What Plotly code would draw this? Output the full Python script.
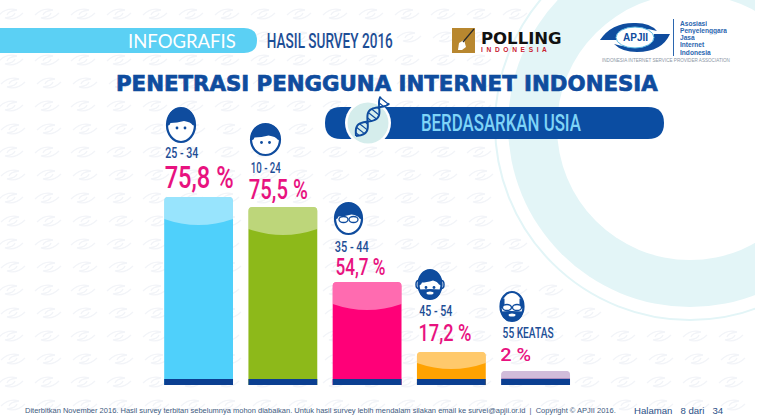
import json
import math

import numpy as np
import plotly.graph_objects as go

W, H = 760, 418
BASE_Y = 385  # pixel row of the bars' common baseline

age_groups = ['25 - 34', '10 - 24', '35 - 44', '45 - 54', '55 KEATAS']
percent_labels = ['75,8 %', '75,5 %', '54,7 %', '17,2 %', '2 %']
# the infographic does not draw its bars in proportion to the percentages,
# so these are the bar heights as measured on the picture
drawn_heights = [188, 178, 103, 33, 14]
bar_colours = ['#4FD0FB', '#8DB91A', '#FF0078', '#FFA200', '#B08CC0']

footer_text = ('Diterbitkan November 2016. Hasil survey terbitan sebelumnya mohon diabaikan. '
               'Untuk hasil survey lebih mendalam silakan email ke survei@apjii.or.id&nbsp; |&nbsp; '
               'Copyright © APJII 2016.')
apjii_lines = ['Asosiasi', 'Penyelenggara', 'Jasa', 'Internet', 'Indonesia']

NAVY = '#0F4C9E'
NARROW = 'Roboto'  # no condensed face installed, squeezed to width in the page script below


def px(x, y):
    return f'{x / W:.5f},{1 - y / H:.5f}'


def paper_path(path, fill=None, line=None, width=0, layer='above', opacity=1):
    return dict(type='path', xref='paper', yref='paper', path=path, layer=layer, opacity=opacity,
                fillcolor=fill or 'rgba(0,0,0,0)',
                line=dict(color=line or 'rgba(0,0,0,0)', width=width))


def ellipse(cx, cy, rx, ry, fill=None, line=None, width=0, layer='above'):
    return dict(type='circle', xref='paper', yref='paper', layer=layer,
                x0=(cx - rx) / W, x1=(cx + rx) / W, y0=1 - (cy + ry) / H, y1=1 - (cy - ry) / H,
                fillcolor=fill or 'rgba(0,0,0,0)',
                line=dict(color=line or 'rgba(0,0,0,0)', width=width))


def label(x, y, text, size, color, family='Liberation Sans', anchor='left', bold=False, height=None, weight=None):
    if bold:
        text = f'<b>{text}</b>'
    return dict(xref='paper', yref='paper', x=x / W, y=1 - y / H, text=text, showarrow=False,
                xanchor=anchor, yanchor='middle', height=height,
                font=dict(size=size, color=color, family=family, weight=weight))


def watermark():
    # one long path holding all the faint swirls, skipped inside the big ring
    parts = []
    for row in range(18):
        y = 14 + 23 * row
        for col in range(21):
            x = 11 + 36 * col + (row % 2) * 2
            if math.hypot(x - 690, y - 125) < 200:
                continue
            parts.append(f'M{px(x - 12, y + 1)} Q{px(x - 4, y - 7)} {px(x + 6, y - 4)} '
                         f'Q{px(x - 3, y - 3)} {px(x - 4, y + 1)} '
                         f'M{px(x + 12, y - 1)} Q{px(x + 4, y + 7)} {px(x - 6, y + 4)} '
                         f'Q{px(x + 3, y + 3)} {px(x + 4, y - 1)}')
    return paper_path(' '.join(parts), line='#F2F4F8', width=1.3, layer='below')


def face(cx, cy, rx, ry, kind):
    shapes = []
    if kind == 'beard':
        shapes.append(ellipse(cx - rx, cy, 2.5, 4, fill='white', line=NAVY, width=1.5))
        shapes.append(ellipse(cx + rx, cy, 2.5, 4, fill='white', line=NAVY, width=1.5))
    shapes.append(ellipse(cx, cy, rx, ry, fill='white', line=NAVY, width=2.2))
    left, right, top, chin = cx - rx, cx + rx, cy - ry, cy + ry
    if kind == 'bald':
        shapes.append(paper_path(f'M{px(left, cy + 2)} Q{px(left - 1, cy - 7)} {px(left + 4, cy - 8)} '
                                 f'L{px(left + 4, cy + 1)} Z M{px(right, cy + 2)} '
                                 f'Q{px(right + 1, cy - 7)} {px(right - 4, cy - 8)} L{px(right - 4, cy + 1)} Z',
                                 fill=NAVY))
    else:
        shapes.append(paper_path(f'M{px(left, cy + 1)} Q{px(left, top)} {px(cx, top)} '
                                 f'Q{px(right, top)} {px(right, cy + 1)} '
                                 f'L{px(right - 2.5, cy)} Q{px(right - 4, cy - 3)} {px(cx + 3, cy - 4)} '
                                 f'Q{px(cx - 4, cy - 2)} {px(left + 3.5, cy - 2)} '
                                 f'L{px(left + 2.5, cy)} Z', fill=NAVY))
    if kind in ('glasses', 'bald'):
        shapes.append(ellipse(cx - 5, cy + 1, 4.5, 3, fill='white', line=NAVY, width=1.3))
        shapes.append(ellipse(cx + 5, cy + 1, 4.5, 3, fill='white', line=NAVY, width=1.3))
    else:
        shapes.append(ellipse(cx - 4, cy + 3, 1.4, 1.4, fill=NAVY))
        shapes.append(ellipse(cx + 4, cy + 3, 1.4, 1.4, fill=NAVY))
    if kind in ('beard', 'bald'):
        shapes.append(paper_path(f'M{px(left + 1, cy + 5)} Q{px(cx, cy + 4)} {px(right - 1, cy + 5)} '
                                 f'Q{px(right - 1, chin)} {px(cx, chin)} Q{px(left + 1, chin)} {px(left + 1, cy + 5)} Z',
                                 fill=NAVY))
        shapes.append(ellipse(cx, cy + ry - 6, 3.5, 1.5, fill='white'))
    return shapes


def dna():
    t = np.linspace(0, 1, 40)
    xs = 356 + 29 * t
    ys = 136 - 36 * t
    strand_a, strand_b = [], []
    for x, y, s in zip(xs, ys, t):
        off = 5.5 * np.sin(s * 2 * np.pi * 1.25)
        strand_a.append((x + off * 0.78, y + off * 0.62))
        strand_b.append((x - off * 0.78, y - off * 0.62))
    shapes = []
    for strand in (strand_a, strand_b):
        d = 'M' + ' L'.join(px(a, b) for a, b in strand)
        shapes.append(paper_path(d, line=NAVY, width=2))
    rungs = ''.join(f'M{px(*strand_a[k])} L{px(*strand_b[k])} ' for k in range(2, 40, 4))
    shapes.append(paper_path(rungs, line=NAVY, width=1.2))
    return shapes


def apjii_logo():
    return [
        paper_path(f'M{px(600, 40)} Q{px(612, 22)} {px(636, 23)} Q{px(650, 23)} {px(657, 31)} '
                   f'Q{px(640, 26)} {px(622, 32)} L{px(617, 40)} Z', fill='#0F4C9E'),
        paper_path(f'M{px(670, 34)} Q{px(662, 52)} {px(637, 52)} Q{px(622, 52)} {px(614, 44)} '
                   f'Q{px(632, 50)} {px(650, 43)} L{px(654, 34)} Z', fill='#0F4C9E'),
        ellipse(635, 37.5, 19, 10.5, fill='white', line='#58B6E0', width=1),
        dict(type='line', xref='paper', yref='paper', x0=673.5 / W, x1=673.5 / W,
             y0=1 - 56 / H, y1=1 - 19 / H, line=dict(color='#2B66AF', width=1)),
    ]


xs = np.arange(len(age_groups))
BAR_WIDTH = 0.817
SLOT = 84.25  # pixels between bar centres
HIGHLIGHT_DEPTH = [22, 22, 22, 11, 7]
HIGHLIGHT_SAG = [6, 6, 6, 6, 0]
AGE_OFFSET = [44, 39, 35, 41, 38]
VALUE_OFFSET = [20, 18, 15, 19, 17]
VALUE_SIZE = [31, 27, 23, 24, 19]
VALUE_WIDTH = [69, 59, 50, 53, 31]
VALUE_SHIFT = [0, -4, -7, -6, -20]
AGE_WIDTH = [33, 30, 34, 33, 51]
AGE_SHIFT = [-17, -17, -15, -15, -8]

fig = go.Figure()
fig.add_trace(go.Bar(x=xs, y=drawn_heights, width=BAR_WIDTH, marker_color=bar_colours,
                     marker_line_width=0, hovertext=age_groups))
fig.add_trace(go.Bar(x=xs, y=[6] * len(xs), width=BAR_WIDTH, marker_color='#0B3F91',
                     marker_line_width=0, hoverinfo='skip'))

shapes = [
    ellipse(690, 125, 195, 195, line='#E3F5F7', width=2, layer='below'),
    ellipse(690, 125, 182, 182, fill='#E3F5F7', layer='below'),
    ellipse(690, 127, 133, 133, fill='white', layer='below'),
    dict(type='rect', xref='paper', yref='paper', layer='below', x0=755 / W, x1=1, y0=0, y1=1,
         fillcolor='white', line_width=0),
    watermark(),
    # header pill
    paper_path(f'M{px(0, 28)} L{px(244, 28)} Q{px(257, 28)} {px(257, 40.5)} Q{px(257, 53)} {px(244, 53)} '
               f'L{px(0, 53)} Z', fill='#5BD0F4'),
    # polling logo
    dict(type='rect', xref='paper', yref='paper', x0=452 / W, x1=475 / W, y0=1 - 53 / H, y1=1 - 28 / H,
         fillcolor='#B8872F', line_width=0),
    paper_path(f'M{px(458, 50)} L{px(459, 43)} L{px(464, 40)} L{px(466, 47)} L{px(462, 50)} Z', fill='white'),
    paper_path(f'M{px(463, 42)} L{px(474, 29)}', line='#2A2A2A', width=1.2),
    # subtitle pill
    paper_path(f'M{px(341, 107)} L{px(648, 107)} Q{px(664, 107)} {px(664, 123)} Q{px(664, 139)} {px(648, 139)} '
               f'L{px(341, 139)} Q{px(325, 139)} {px(325, 123)} Q{px(325, 107)} {px(341, 107)} Z', fill='#0B4DA2'),
    ellipse(368, 123, 23, 23, fill='white'),
    ellipse(368, 123, 20.5, 20.5, fill='#D5EDEC'),
]
shapes += dna()
shapes += apjii_logo()
shapes += face(181, 125, 14, 17, 'boy')
shapes += face(265.5, 139.5, 14.5, 15.5, 'kid')
shapes += face(348.5, 218.5, 13.5, 15.5, 'glasses')
shapes += face(430, 284.5, 11.5, 14.5, 'beard')
shapes += face(512, 306.5, 11.5, 14.5, 'bald')

# lighter caps and their curved lower edge, built from the bar heights
half = BAR_WIDTH / 2
for x, h, depth, sag in zip(xs, drawn_heights, HIGHLIGHT_DEPTH, HIGHLIGHT_SAG):
    shapes.append(dict(type='path', xref='x', yref='y', layer='above', fillcolor='rgba(255,255,255,0.42)',
                       line_width=0,
                       path=(f'M{x - half},{h - depth} Q{x},{h - depth - 2 * sag} {x + half},{h - depth} '
                             f'L{x + half},{h - 4} Q{x + half},{h} {x + half - 0.05},{h} '
                             f'L{x - half + 0.05},{h} Q{x - half},{h} {x - half},{h - 4} Z')))

TITLE = 'PENETRASI PENGGUNA INTERNET INDONESIA'
annotations = [
    label(126, 41, 'INFOGRAFIS', 18.5, 'white', family='Lato'),
    label(330, 41, 'HASIL SURVEY 2016', 20, '#1D4E96', family=NARROW, anchor='center', weight=500),
    label(386.5, 84, TITLE, 21.3, NAVY, family='DejaVu Sans', anchor='center', bold=True),
    label(501, 123, 'BERDASARKAN USIA', 24, '#7FD4F7', family=NARROW, anchor='center', weight=500),
    label(479, 38, 'POLLING', 16.5, '#111111', family='DejaVu Sans', bold=True, height=14),
    label(479, 49, 'I&nbsp; N&nbsp; D&nbsp; O&nbsp; N&nbsp; E&nbsp; S&nbsp; I&nbsp; A', 6.6, '#C8202F',
          family='Liberation Sans', bold=True, height=7),
    label(635, 37.5, 'APJII', 10, NAVY, family='Liberation Sans', anchor='center', bold=True),
    label(600, 60.5, 'INDONESIA INTERNET SERVICE PROVIDER ASSOCIATION', 4.6, '#8D97A5'),
    label(23, 410, footer_text, 7.5, '#3E5A80'),
    label(632, 410, 'Halaman&nbsp;&nbsp; 8 dari&nbsp;&nbsp; 34', 9.6, '#2A4F86'),
]
for k, text in enumerate(apjii_lines):
    annotations.append(label(678, 23 + 7.3 * k, text, 6.6, '#2B66AF', bold=True, height=7.2))

squeeze = {'HASIL SURVEY 2016': 126, 'BERDASARKAN USIA': 160}
for x, h, age, pct, age_off, val_off, size, age_w, val_w, age_sh, val_sh in zip(
        xs, drawn_heights, age_groups, percent_labels, AGE_OFFSET, VALUE_OFFSET, VALUE_SIZE,
        AGE_WIDTH, VALUE_WIDTH, AGE_SHIFT, VALUE_SHIFT):
    squeeze[age] = age_w
    squeeze[pct] = val_w
    annotations.append(dict(xref='x', yref='y', x=x, y=h + age_off, text=age, showarrow=False,
                            xanchor='center', yanchor='middle', xshift=age_sh, height=12,
                            font=dict(size=14, color='#1D4E96', family=NARROW, weight=500)))
    annotations.append(dict(xref='x', yref='y', x=x, y=h + val_off, text=pct, showarrow=False,
                            xanchor='center', yanchor='middle', xshift=val_sh, height=size,
                            font=dict(size=size, color='#E8127F', family=NARROW, weight=500)))

fig.update_layout(
    width=W, height=H,
    margin=dict(l=0, r=0, t=0, b=0),
    paper_bgcolor='white', plot_bgcolor='rgba(0,0,0,0)',
    barmode='overlay', barcornerradius=4, showlegend=False,
    shapes=shapes, annotations=annotations,
)
centre = 367.1
fig.update_xaxes(domain=[(centre - 2.5 * SLOT) / W, (centre + 2.5 * SLOT) / W], range=[-0.5, 4.5], visible=False)
fig.update_yaxes(domain=[(H - BASE_Y) / H, 1], range=[0, BASE_Y], visible=False)

post = """
document.body.style.margin = '0';
var squeeze = %s;
var title = %s;
function fit() {
  document.querySelectorAll('.annotation-text').forEach(function (t) {
    var target = squeeze[t.textContent];
    if (target) {
      t.setAttribute('lengthAdjust', 'spacingAndGlyphs');
      t.setAttribute('textLength', target);
    }
    if (t.textContent === title) {
      t.style.stroke = '%s';
      t.style.strokeWidth = '0.7px';
    }
  });
}
fit();
setTimeout(fit, 100);
""" % (json.dumps(squeeze), json.dumps(TITLE), NAVY)

fig.write_html('out.html', config=dict(displayModeBar=False), post_script=post)
